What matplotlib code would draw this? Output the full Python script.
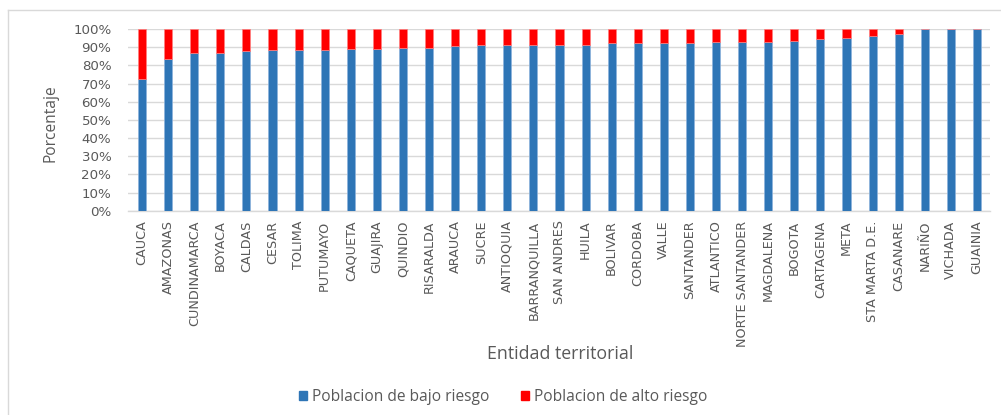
import matplotlib
matplotlib.use("Agg")
import matplotlib.pyplot as plt
from matplotlib.lines import Line2D
from matplotlib.patches import Patch
import numpy as np

# Data: share of population by risk level per territorial entity (%)
entidades = ["CAUCA", "AMAZONAS", "CUNDINAMARCA", "BOYACA", "CALDAS", "CESAR",
             "TOLIMA", "PUTUMAYO", "CAQUETA", "GUAJIRA", "QUINDIO", "RISARALDA",
             "ARAUCA", "SUCRE", "ANTIOQUIA", "BARRANQUILLA", "SAN ANDRES", "HUILA",
             "BOLIVAR", "CORDOBA", "VALLE", "SANTANDER", "ATLANTICO",
             "NORTE SANTANDER", "MAGDALENA", "BOGOTA", "CARTAGENA", "META",
             "STA MARTA D.E.", "CASANARE", "NARIÑO", "VICHADA", "GUAINIA"]
bajo_riesgo = [72.5, 83.5, 87.0, 87.0, 87.9, 88.4, 88.4, 88.4, 89.0, 89.0, 89.7,
               89.7, 90.5, 91.0, 91.0, 91.2, 91.2, 91.2, 92.1, 92.1, 92.1, 92.1,
               92.7, 92.7, 93.0, 93.4, 94.3, 95.2, 96.1, 97.4, 100.0, 100.0, 100.0]
alto_riesgo = [100.0 - v for v in bajo_riesgo]
ytick_vals = list(range(0, 101, 10))
ytick_labels = [f"{v}%" for v in ytick_vals]

BLUE = "#2E75B6"
RED = "#FF0000"
TEXT = "#595959"
GRID = "#D9D9D9"

fig = plt.figure(figsize=(10.01, 4.15), dpi=100)
fig.patch.set_facecolor("white")

W, H = 1001, 415
left_px, right_px, top_px, bottom_px = 128, 990, 29, 210.7
ax = fig.add_axes([left_px / W, 1 - bottom_px / H,
                   (right_px - left_px) / W, (bottom_px - top_px) / H])

x = np.arange(len(entidades))
width = 0.31
ax.bar(x, bajo_riesgo, width, color=BLUE, edgecolor="#8DB3DC", linewidth=0.5,
       zorder=3)
ax.bar(x, alto_riesgo, width, bottom=bajo_riesgo, color=RED, edgecolor="#FF8080",
       linewidth=0.5, zorder=3)

ax.set_xlim(-0.54, len(entidades) - 1 + 0.5)
ax.set_ylim(0, 100)
ax.set_yticks(ytick_vals)
ax.set_yticklabels(ytick_labels, color=TEXT, fontsize=9.6, family="DejaVu Sans")
ax.yaxis.grid(True, color=GRID, linewidth=1.0, zorder=0)
ax.set_xticks(x)
ax.set_xticklabels(entidades, rotation=90, color=TEXT, fontsize=9.2,
                   family="Liberation Sans Narrow", va="top", ha="center")
ax.tick_params(axis="both", length=0)
ax.tick_params(axis="y", pad=12)
ax.tick_params(axis="x", pad=7)
for s in ("top", "right", "left"):
    ax.spines[s].set_visible(False)
ax.spines["bottom"].set_color(GRID)
ax.spines["bottom"].set_linewidth(1.0)

fig.text(50 / W, 1 - 123 / H, "Porcentaje", color=TEXT, fontsize=11.2,
         family="Open Sans", rotation=90, ha="center", va="center")
fig.text(560 / W, 1 - 354 / H, "Entidad territorial", color=TEXT, fontsize=12.8,
         family="Open Sans", ha="center", va="center")

handles = [Patch(facecolor=BLUE, edgecolor=BLUE),
           Patch(facecolor=RED, edgecolor=RED)]
fig.legend(handles, ["Poblacion de bajo riesgo", "Poblacion de alto riesgo"],
           loc="center", bbox_to_anchor=(503 / W, 1 - 397 / H), ncol=2,
           frameon=False, labelcolor=TEXT,
           prop={"family": "Open Sans", "size": 11.2},
           handlelength=0.55, handleheight=0.55, handletextpad=0.3,
           columnspacing=2.0)

# chart-area frame
fig.add_artist(Line2D([8 / W, 1.0], [1 - 10 / H, 1 - 10 / H], color="#D9D9D9",
                      linewidth=1.0, transform=fig.transFigure))
fig.add_artist(Line2D([8 / W, 8 / W], [0, 1 - 10 / H], color="#D9D9D9",
                      linewidth=1.0, transform=fig.transFigure))

fig.savefig("out.png", dpi=100, facecolor="white")
